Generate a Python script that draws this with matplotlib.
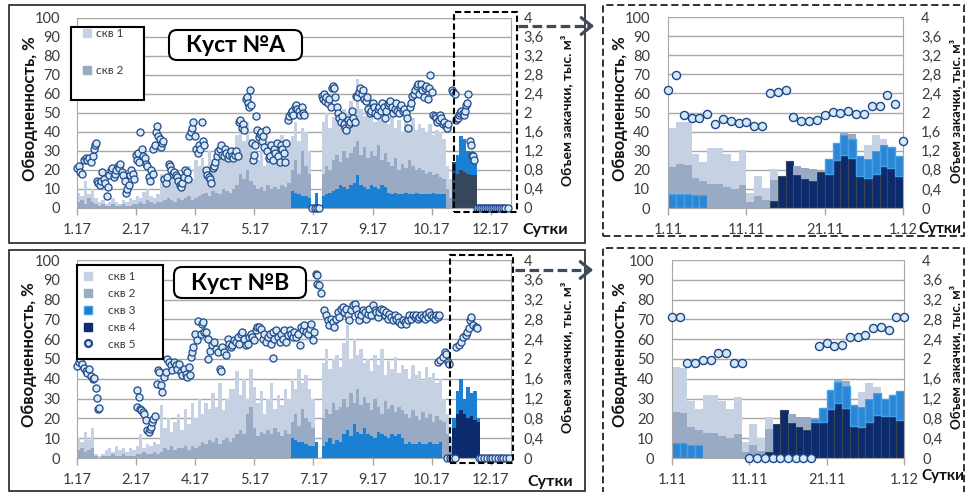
import numpy as np
import matplotlib
matplotlib.use("Agg")
import matplotlib.pyplot as plt
from matplotlib.patches import Rectangle, FancyBboxPatch, FancyArrowPatch
from matplotlib.lines import Line2D
from matplotlib.transforms import IdentityTransform

plt.rcParams['font.family'] = ['Lato', 'DejaVu Sans']

W, H = 966, 492

# ---------------- DATA ----------------
year_ticks = ['1.17', '2.17', '4.17', '5.17', '7.17', '9.17', '10.17', '12.17']
nov_ticks = ['1.11', '11.11', '21.11', '1.12']
vol_ticks = ['0', '0,4', '0,8', '1,2', '1,6', '2', '2,4', '2,8', '3,2', '3,6', '4']
wc_ticks = ['0', '10', '20', '30', '40', '50', '60', '70', '80', '90', '100']

# Куст A, whole year: injection volume per well (тыс. м3) per time step
a_skv1 = [0.20, 0.08, 0.48, 0.08, 0.28, 0.12,
          0.08, 0.08, 0.04, 0.08, 0.12, 0.08, 0.04, 0.08, 0.08, 0.16, 0.08,
          0.16, 0.08, 0.24, 0.24, 0.12, 0.12, 0.16,
          0.60, 0.32, 0.40, 0.64, 0.44, 0.32, 0.48, 0.56, 0.64, 0.44, 0.80,
          0.64, 0.76, 0.48, 0.96, 0.60, 0.80, 0.72, 0.92, 0.72, 0.72,
          0.88, 1.04, 0.96, 0.80, 1.00, 0.88, 0.72,
          0.60, 0.76, 0.52, 0.92, 0.72, 0.84, 0.64, 1.04, 0.76, 0.84,
          0.72, 0.80, 0.68, 0.48, 0.72, 0.48,
          0.04, 0, 0.04,
          1.08, 1.12, 0.88, 0.92, 1.08, 0.92, 0.88, 0.96, 1.08, 0.68,
          1.32,
          0.96, 0.64, 1.16, 0.80, 0.72, 0.80, 0.88, 0.84,
          0.80, 1.04, 0.64, 1.04, 0.68, 0.96, 0.72, 1.00, 0.84, 0.92,
          0.88, 0.88, 1.00, 0.84, 0.92, 0.96, 0.84,
          0.48, 0.40] + [0] * 17
a_skv2 = [0.12, 0.16, 0.08, 0.20, 0.12, 0.08,
          0.04, 0.08, 0.04, 0.04, 0.08, 0.04, 0.04, 0.08, 0.04, 0.04, 0.08,
          0.08, 0.12, 0.08, 0.16, 0.12, 0.08, 0.12,
          0.12, 0.16, 0.20, 0.16, 0.12, 0.20, 0.16, 0.20, 0.24, 0.16, 0.20,
          0.24, 0.28, 0.32, 0.24, 0.36, 0.32, 0.28, 0.40, 0.36, 0.32,
          0.40, 0.48, 0.72, 0.60, 0.80, 0.56, 0.48,
          0.40, 0.44, 0.36, 0.48, 0.40, 0.44, 0.40, 0.48, 0.44, 0.52,
          0.44, 0.68, 0.44, 0.96, 0.64, 0.52,
          0.04, 0, 0,
          0.48, 0.60, 0.48, 0.64, 0.72, 0.48, 0.76, 0.64, 0.68, 0.76,
          0.72,
          0.64, 0.84, 0.64, 0.72, 0.64, 0.92, 0.52, 0.72,
          0.64, 0.60, 0.72, 0.52, 0.64, 0.52, 0.72, 0.60, 0.48, 0.56,
          0.52, 0.44, 0.48, 0.36, 0.44, 0.36, 0.32,
          0.40, 0.20] + [0] * 17
a_skv3 = [0] * 62 + [0.36, 0.32, 0.28, 0.24, 0.24, 0.20,
                     0, 0.32, 0,
                     0.24, 0.28, 0.32, 0.36, 0.40, 0.48, 0.44, 0.40, 0.48, 0.52,
                     0.68,
                     0.48, 0.44, 0.40, 0.48, 0.44, 0.40, 0.48, 0.44,
                     0.32, 0.28, 0.32, 0.28, 0.28, 0.32, 0.28, 0.28, 0.32, 0.28,
                     0.28, 0.28, 0.28, 0.32, 0.28, 0.28, 0.28,
                     0, 0,
                     0, 0.40, 0.72, 0.68, 0.48, 0.48, 0.36] + [0] * 10
a_skv4 = [0] * 109 + [0.96, 0.72, 0.80, 0.76, 0.72, 0.68, 0.68] + [0] * 10

# Куст A, whole year: water cut of скв 5 (%)
a_skv5_t = [0, 0.5, 1, 1.5, 2, 2.5, 3, 3.5, 4, 4.5, 5, 5.3, 5.6,
            5.8, 6.2, 6.6, 7, 7.4, 7.8, 8.2, 8.6, 9, 9.4, 9.8, 10.2, 10.6, 11,
            11.4, 11.8, 12.2, 12.6, 13, 13.4, 13.8, 14.2, 14.6, 15, 15.4, 15.8, 16.2, 16.6,
            17, 17.3, 17.7, 18, 18.4, 18.8, 19.2, 19.6, 20, 20.4, 20.8, 21.2, 21.6, 22,
            22.2, 22.6, 23, 23.3, 23.6, 24, 24.4, 24.8, 25,
            25.4, 25.8, 26.2, 26.6, 27, 27.4, 27.8, 28.2, 28.6, 29, 29.4, 29.8, 30.2, 30.6, 31, 31.4, 31.8, 32.2,
            32.6, 33, 33.4, 33.8, 34.2, 34.6, 35, 35.4, 35.8, 36.2, 36.6, 37,
            37.4, 37.8, 38.2, 38.6, 39, 39.4,
            39.8, 40.2, 40.6, 41, 41.4, 41.8, 42.2, 42.6, 43, 43.4, 43.8, 44.2, 44.6, 45, 45.4, 45.8, 46.2, 46.6,
            47, 47.4, 47.8, 48.2, 48.6,
            49, 49.3, 49.6, 50, 50.3, 50.6,
            50.9, 51.2, 51.5, 51.8, 52.1, 52.4, 52.7, 53, 53.3,
            53.6, 54, 54.4, 54.8, 55.2, 55.6, 56, 56.4, 56.8, 57.2, 57.6, 58, 58.4, 58.8, 59.2, 59.6, 60, 60.4, 60.8,
            61.2, 61.6, 62, 62.4, 62.8, 63.2, 63.6, 64, 64.4, 64.8, 65.2, 65.6, 66,
            68.3, 69, 69.7, 70.4,
            71, 71.3, 71.6, 72, 72.4, 72.8, 73.2, 73.6, 74, 74.3, 74.6,
            75, 75.4, 75.8, 76.2, 76.6, 77, 77.4, 77.8, 78.2, 78.6, 79, 79.4, 79.8, 80.2, 80.6,
            81, 81.4, 81.8, 82.2, 82.6, 83, 83.4, 83.8, 84.2, 84.6, 85,
            85.4, 85.8, 86.2, 86.6, 87, 87.4, 87.8, 88.2, 88.6, 89, 89.4, 89.8, 90.2, 90.6, 91, 91.4, 91.8, 92.2, 92.6, 93, 93.4, 93.8,
            94.2, 94.6, 95, 95.4, 95.8, 96.2, 96.6, 97,
            97.4, 97.8, 98.2, 98.6, 99, 99.4, 99.8, 100.2, 100.6, 101, 101.4, 101.8, 102.2, 102.6, 103,
            103.4, 103.8, 104.2, 104.6, 105, 105.4, 105.8, 106.2, 106.6, 107, 107.4, 107.8,
            109, 109.3, 109.6, 110, 110.3, 110.6, 111, 111.3, 111.6, 112, 112.3, 112.6, 113, 113.3, 113.6, 114, 114.3, 114.6, 115, 115.3,
            116, 116.6, 117.2, 117.8, 118.4, 119, 119.6, 120.2, 120.8, 121.4, 122, 122.6, 123.2, 123.8, 124.4, 125]
a_skv5 = [21, 22, 19, 18, 25, 26, 25, 26, 24, 27, 31, 33, 34,
          14, 13, 12, 14, 19, 15, 13, 6, 11, 17, 20, 21, 16, 18,
          20, 22, 21, 23, 19, 17, 14, 8, 10, 12, 17, 20, 18, 15,
          28, 25, 29, 24, 40, 31, 27, 26, 23, 22, 16, 14, 20, 18,
          31, 33, 40, 43, 38, 36, 32, 34, 35,
          15, 13, 16, 23, 22, 20, 18, 19, 17, 16, 14, 12, 11, 13, 16, 20, 19, 15,
          38, 40, 42, 45, 38, 31, 29, 33, 31, 45, 35, 33,
          20, 17, 16, 15, 13, 21,
          22, 24, 27, 30, 31, 33, 28, 27, 31, 29, 26, 28, 30, 27, 26, 28, 30, 27,
          45, 46, 42, 44, 41,
          57, 58, 55, 53, 62, 54,
          34, 25, 28, 33, 48, 41, 37, 39, 40,
          35, 38, 32, 41, 30, 26, 27, 33, 25, 31, 29, 34, 27, 24, 33, 31, 29, 24, 34,
          46, 48, 50, 51, 49, 53, 54, 52, 51, 49, 53, 50, 49,
          0, 0, 0, 0,
          59, 57, 60, 56, 58, 55, 57, 53, 63, 64, 63,
          58, 53, 50, 47, 45, 48, 44, 42, 41, 46, 44, 45, 51, 47, 45,
          59, 58, 61, 63, 60, 62, 57, 56, 58, 52, 50,
          51, 55, 53, 50, 49, 52, 53, 51, 55, 53, 47, 51, 54, 55, 56, 53, 50, 52, 55, 51, 50, 53,
          54, 51, 52, 50, 47, 42, 53, 55,
          59, 60, 62, 64, 65, 60, 65, 62, 58, 63, 64, 57, 63, 70, 61,
          49, 48, 47, 45, 46, 49, 47, 44, 45, 43, 42, 44,
          62, 61, 60, 46, 47, 47, 49, 50, 51, 50, 49, 51, 54, 55, 60, 35, 33, 28, 27, 25,
          0, 0, 0, 0, 0, 0, 0, 0, 0, 0, 0, 0, 0, 0, 0, 0]

# Куст B, whole year
b_skv1 = [0.24, 0.12, 0.40, 0.20, 0.40,
          0.04, 0.04, 0.04,
          0.12, 0.16, 0.04, 0.20, 0.12, 0.12, 0.08, 0.16, 0.12,
          0.16, 0.40, 0.08, 0.20, 0.16, 0.20, 0.20,
          0.96, 0.40, 0.64, 0.28, 0.56, 0.68, 0.36, 0.76, 0.52, 0.88, 0.60,
          0.96, 0.56, 0.84, 0.64, 1.00, 0.64, 1.24, 0.60, 0.80, 1.08,
          1.00, 1.28, 0.72, 1.12, 0.32, 0.76, 0.84,
          0.68, 0.84, 0.40, 0.64, 1.04, 0.40, 0.76, 0.64, 0.84, 0.72,
          0.88, 0.52, 1.16, 0.52, 0.88, 0.68, 0.60,
          0, 0,
          1.12, 1.20, 0.92, 0.88, 1.12, 0.80,
          1.12, 1.64, 0.68, 1.28, 0.68, 1.12, 0.68,
          0.88, 0.80, 0.88, 0.84, 1.32, 0.52, 0.96, 0.72, 1.12, 0.68, 0.92,
          0.92, 0.80, 0.92, 0.84, 1.00, 0.64, 1.04, 0.76, 1.00, 0.68, 0.84,
          0.48, 0.40, 0.16] + [0] * 17
b_skv2 = [0.16, 0.20, 0.12, 0.16, 0.20,
          0.04, 0, 0.04,
          0.04, 0.04, 0.08, 0.04, 0.04, 0.08, 0.04, 0.04, 0.04,
          0.08, 0.08, 0.12, 0.08, 0.08, 0.12, 0.08,
          0.12, 0.20, 0.16, 0.24, 0.16, 0.20, 0.20, 0.24, 0.16, 0.24, 0.20,
          0.24, 0.32, 0.28, 0.36, 0.32, 0.40, 0.28, 0.36, 0.40, 0.32,
          0.40, 0.48, 0.56, 0.48, 0.88, 1.04, 0.60,
          0.44, 0.52, 0.48, 0.56, 0.48, 0.60, 0.52, 0.44, 0.56, 0.48,
          0.32, 0.52, 0.32, 0.68, 0.52, 0.48, 0.36,
          0, 0,
          0.56, 0.68, 0.48, 0.84, 0.60, 0.72,
          0.72, 0.48, 0.88, 0.44, 0.88, 0.60, 0.64,
          0.64, 0.52, 0.80, 0.52, 0.40, 0.72, 0.60, 0.60, 0.48, 0.56, 0.56,
          0.60, 0.48, 0.68, 0.56, 0.44, 0.64, 0.52, 0.56, 0.44, 0.56, 0.44,
          0.72, 0.48, 0.24] + [0] * 17
b_skv3 = [0] * 62 + [0.40, 0.36, 0.32, 0.32, 0.28, 0.24, 0.24,
                     0.32, 0,
                     0.24, 0.32, 0.40, 0.28, 0.36, 0.32,
                     0.48, 0.56, 0.44, 0.68, 0.52, 0.48, 0.60,
                     0.48, 0.44, 0.40, 0.52, 0.48, 0.44, 0.40, 0.48, 0.44, 0.48, 0.40,
                     0.28, 0.32, 0.28, 0.28, 0.32, 0.28, 0.28, 0.32, 0.28, 0.28, 0.32,
                     0, 0, 0,
                     0.20, 0.48, 0.64, 0.32, 0.64, 0.48, 0.60, 0.08] + [0] * 9
b_skv4 = [0] * 109 + [0.60, 0.88, 0.96, 0.88, 0.80, 0.84, 0.76, 0.72] + [0] * 9

b_skv5_t = [0.1, 0.6, 1, 1.5, 2, 2.5, 3, 3.5, 4, 4.5, 4.9, 5.4, 5.9, 6.2, 6.4,
            17.3, 17.5, 18, 18.3, 18.7, 19.1, 19.5, 20, 20.4, 20.9, 21.2, 21.6, 21.9, 22.2, 22.6,
            23.1, 23.5, 23.8, 24.3, 24.8, 25.3, 25.8, 26.2,
            26.7, 27.2, 27.7, 28.2, 28.7, 29.1, 29.6, 30.1, 30.6, 31.1, 31.5, 32, 32.5, 32.8,
            33.2, 33.5, 33.8, 34.2, 34.8, 35, 35.9, 36.4, 36.7, 36.9, 37.4, 37.9,
            38, 38.6, 39.3, 39.8, 40.3, 40.8, 41.5, 41.7, 42.2, 42.7, 43.2, 43.7, 44.1, 44.6,
            45.1, 45.6, 46.1, 46.6, 47.1, 47.6, 48, 48.5, 49, 49.5, 50, 50.4, 50.9, 51.4, 51.9, 52.4,
            52.9, 53.4, 53.9, 54.4, 54.9, 55.4, 55.9, 56.3, 56.8, 57, 57.3, 57.8, 58.3, 58.8, 59.2,
            59.7, 60.2, 60.7, 61.2, 61.7, 62.2, 62.6, 63.1, 63.6, 64.1, 64.6, 65, 65.5, 66, 66.5,
            67, 67.5, 68, 68.4, 68.9,
            69.4, 69.6, 69.8, 70.2, 70.9,
            71.8, 72.3, 72.8, 73.3, 73.8, 74.3, 74.7, 75.2, 75.7, 76.2,
            76.7, 77.2, 77.6, 78.1, 78.6, 79.1, 79.6, 80.1, 80.6, 81.1,
            81.5, 82, 82.5, 83, 83.5, 84, 84.5, 84.9, 85.4, 85.9,
            86.4, 86.9, 87.3, 87.8, 88.3, 88.8, 89.3, 89.8, 90.2, 90.7,
            91.2, 91.7, 92.2, 92.7, 93.1, 93.6, 94.1, 94.6, 95.1, 95.6,
            96.1, 96.5, 97, 97.5, 98, 98.5, 99, 99.4, 99.9, 100.4,
            100.9, 101.4, 101.9, 102.3, 102.8, 103.3, 103.8, 104.3, 104.8, 105.2,
            104.9, 105.4, 106.2, 106.7, 107.2, 107.7, 108.1,
            107.4, 108.2, 109, 109.8,
            110.1, 110.8, 111.5, 112, 112.8, 113.2, 113.9, 114.1, 114.4, 114.9, 115.7, 116.1,
            116.6, 117.4, 118.2, 119, 119.8, 120.6, 121.4, 122.2, 123, 123.8, 124.6, 125.4]
b_skv5 = [46.5, 48.5, 50, 47.5, 45.5, 44, 43, 45, 41.5, 40, 40.5, 35.4, 30.3, 24.5, 25.3,
          34.2, 25.8, 30.8, 25, 24, 23, 22.4, 19, 14, 13.1, 14.8, 15.7, 18.2, 19.9, 21.2,
          37.5, 44.3, 43.4, 36.7, 33.3, 40.9, 43.4, 50.2,
          48.5, 46.8, 44.3, 48.5, 46.8, 45, 47.6, 43.4, 41.7, 45, 42.6, 40.9, 46, 41.7,
          51, 53.5, 56, 62.8, 59.4, 69, 62.8, 67.8, 68.7, 63.6, 63.6, 60.3,
          50.2, 53.9, 56.9, 58.6, 55.2, 53.5, 45.1, 43.8, 56, 53.5, 51.9, 60.3, 57.7, 56,
          56.9, 59.4, 58.6, 61.1, 57.7, 62.8, 63.6, 60.3, 56.9, 57.7, 61.1, 62.8, 61.1, 59.4, 64.5, 66.2,
          66, 65.3, 60.3, 62.8, 58.6, 61, 62.8, 57.7, 63.6, 50.5, 60.3, 64.5, 61.1, 58.6, 62.8,
          60.3, 64.5, 58.6, 62, 64.5, 62.8, 61.1, 63.6, 61.1, 62.8, 56.9, 66.2, 64.5, 67, 63.6,
          62.8, 65.3, 67.8, 59.4, 63.6,
          92.8, 92.6, 88, 87.2, 83.3,
          74.6, 72, 69.5, 67, 70.4, 68.7, 66.2, 70.4, 73.7, 71.2,
          75.4, 76.3, 73.7, 75.4, 72, 69.5, 74.6, 77.1, 77.9, 75.4,
          72.9, 69.5, 72, 74.6, 73.7, 70.4, 72.9, 75.4, 72, 77.1,
          74.6, 73.7, 71.2, 73.7, 75.4, 74.6, 72, 73.7, 70.4, 72.9,
          71.2, 69.5, 72, 70.4, 71.2, 68.7, 67.8, 69.5, 68.7, 67.8,
          69.5, 72, 70.4, 72, 71.2, 72, 70.4, 71.2, 72, 71.2,
          70.4, 72.9, 71.2, 73.7, 72, 71.2, 70.4, 72, 71.2, 72,
          48.5, 49.3, 51, 53.5, 52.7, 48.5, 47.6,
          0, 0, 0, 0,
          56, 57, 58.7, 61.3, 62, 63.8, 65.5, 69.7, 71.4, 67, 66.3, 65.5,
          0, 0, 0, 0, 0, 0, 0, 0, 0, 0, 0, 0]

# November zoom, Куст A: daily injection (тыс. м3) and water cut (%)
n_a_skv1 = [0.82, 0.89, 0.91, 0.51, 0.40, 0.75, 0.75, 0.69, 0.60, 0.74, 0.18, 0.42, 0.26, 0.24, 0,
            0, 0, 0, 0, 0, 0, 0, 0, 0, 0, 0.30, 0.32, 0.12, 0, 0]
n_a_skv2 = [0.56, 0.62, 0.60, 0.35, 0.30, 0.50, 0.50, 0.45, 0.39, 0.48, 0.13, 0.26, 0.16, 0.44, 0,
            0, 0.19, 0.23, 0.26, 0.02, 0, 0, 0.07, 0.11, 0, 0, 0, 0, 0, 0]
n_a_skv3 = [0.30, 0.30, 0.30, 0.27, 0.27, 0, 0, 0, 0, 0, 0, 0, 0, 0, 0,
            0, 0, 0, 0, 0, 0.30, 0.36, 0.40, 0.41, 0.42, 0.40, 0.48, 0.45, 0.44, 0.40]
n_a_skv4 = [0, 0, 0, 0, 0, 0, 0, 0, 0, 0, 0, 0, 0, 0.14, 0.67,
            0.98, 0.70, 0.61, 0.56, 0.75, 0.72, 1.00, 1.12, 1.04, 0.67, 0.62, 0.72, 0.87, 0.84, 0.68]
n_a_skv5 = [62, 69.5, 48.7, 47.3, 47.3, 49.3, 43.8, 46.7, 45.7, 44.7, 44.9, 42.8, 42.8, 60, 60.7,
            61.6, 47.5, 45.7, 45.7, 46.3, 48.8, 50.2, 49.6, 50.7, 49.3, 49.3, 53.6, 53.6, 59.3, 54.6, 35]

# November zoom, Куст B
n_b_skv1 = [0.91, 0.92, 0.54, 0.43, 0.77, 0.77, 0.71, 0.60, 0.75, 0.20, 0.42, 0.25, 0.24, 0, 0,
            0, 0, 0, 0, 0, 0, 0, 0, 0, 0.29, 0.33, 0.12, 0, 0, 0]
n_b_skv2 = [0.62, 0.60, 0.35, 0.29, 0.50, 0.50, 0.45, 0.40, 0.48, 0.12, 0.27, 0.15, 0.46, 0, 0,
            0.17, 0.19, 0.26, 0, 0, 0, 0.07, 0.10, 0, 0, 0, 0, 0, 0, 0]
n_b_skv3 = [0.30, 0.30, 0.27, 0.27, 0, 0, 0, 0, 0, 0, 0, 0, 0, 0, 0,
            0, 0, 0, 0.05, 0.30, 0.37, 0.42, 0.44, 0.43, 0.41, 0.46, 0.44, 0.34, 0.44, 0.60]
n_b_skv4 = [0, 0, 0, 0, 0, 0, 0, 0, 0, 0, 0, 0, 0.12, 0.68, 0.96,
            0.71, 0.63, 0.56, 0.73, 0.72, 1.00, 1.11, 1.02, 0.65, 0.63, 0.73, 0.87, 0.85, 0.84, 0.76]
n_b_skv5 = [71.4, 71.4, 48.2, 48.2, 49.4, 49.4, 53, 53, 48.2, 48.2, 0, 0, 0, 0, 0,
            0, 0, 0, 0, 56.6, 58, 56.6, 57, 61, 61, 62, 65.5, 66, 64.5, 71, 71.3]

# ---------------- STYLE ----------------
C1 = '#c6d2e3'
C2 = '#98aac4'
C3 = '#1a80d4'
C4 = '#0c2b6e'
C4_A = '#35465d'
GRID = '#a8a8a8'
TXT = '#3c3c3c'
MF = '#d3e9f9'
ME = '#1f4685'

fig = plt.figure(figsize=(W / 100, H / 100), dpi=100)


def fx(x):
    return x / W


def fy(y):
    return 1 - y / H


def draw_panel(box, wells, colors, edges, sx, sy, xmax, tpos, tlbl,
               msize, mlw, lpad, rpad, llab_x, rlab_x, rlab_fs):
    l, t, r, b = box
    ax = fig.add_axes([fx(l), fy(b), (r - l) / W, (b - t) / H])
    axv = ax.twinx()
    ax.set_zorder(axv.get_zorder() + 1)
    ax.patch.set_visible(False)

    n = len(wells[0])
    x = np.arange(n)
    bottom = np.zeros(n)
    for vals, col, (ec, elw) in zip(wells, colors, edges):
        v = np.asarray(vals, dtype=float)
        m = v > 0
        axv.bar(x[m], v[m], width=1.0, bottom=bottom[m], align='edge',
                color=col, edgecolor=ec, linewidth=elw, zorder=2)
        bottom = bottom + v
    axv.set_ylim(0, 4)
    axv.set_yticks(np.arange(11) * 0.4)
    axv.set_yticklabels(vol_ticks)
    axv.yaxis.grid(True, color=GRID, linewidth=1.0)
    axv.set_axisbelow(True)
    for s in ('top', 'left', 'bottom'):
        axv.spines[s].set_visible(False)
    axv.spines['right'].set_color(GRID)
    axv.tick_params(axis='y', length=0, pad=rpad, labelsize=10.5, labelcolor=TXT)
    axv.set_ylabel('Объем закачки, тыс. м³', fontsize=rlab_fs, fontweight='bold',
                   color='#111111')
    axv.yaxis.label.set_va('center')
    axv.yaxis.set_label_coords(rlab_x, 0.51)

    ax.scatter(sx, sy, s=msize, facecolor=MF, edgecolor=ME, linewidth=mlw,
               zorder=3, clip_on=False)
    ax.set_xlim(0, xmax)
    ax.set_ylim(0, 100)
    ax.set_yticks(np.arange(11) * 10)
    ax.set_yticklabels(wc_ticks)
    ax.set_xticks(tpos)
    ax.set_xticklabels(tlbl)
    for s in ('top', 'right'):
        ax.spines[s].set_visible(False)
    ax.spines['left'].set_color(GRID)
    ax.spines['bottom'].set_color(GRID)
    ax.tick_params(axis='y', length=0, pad=lpad, labelsize=10.5, labelcolor=TXT)
    ax.tick_params(axis='x', length=5, width=1, color=GRID, pad=6, labelsize=10.5,
                   labelcolor=TXT)
    ax.set_ylabel('Обводненность, %', fontsize=12, fontweight='bold', color='#111111')
    ax.yaxis.label.set_va('center')
    ax.yaxis.set_label_coords(llab_x, 0.52)
    return ax


year_pos = [0, 17.2, 34.3, 51.5, 68.6, 85.8, 103, 120.1]
nov_pos = [0, 10, 20, 30]
no_edge = [(None, 0), (None, 0), (None, 0), (None, 0)]
nov_edges = [('#3c4652', 0.8), ('#45a0ea', 1.0), (C2, 0), (C1, 0)]

# top-left: Куст A, year
draw_panel((77, 17.7, 511, 207.7), [a_skv4, a_skv3, a_skv2, a_skv1],
           [C4_A, C3, C2, C1], no_edge, a_skv5_t, a_skv5, 126, year_pos, year_ticks,
           26, 0.9, 12, 9, -0.108, 1.127, 10)
# bottom-left: Куст B, year
draw_panel((77, 260, 511, 458), [b_skv4, b_skv3, b_skv2, b_skv1],
           [C4, C3, C2, C1], no_edge, b_skv5_t, b_skv5, 126, year_pos, year_ticks,
           26, 0.9, 12, 9, -0.11, 1.129, 10)
# top-right: Куст A, November
nov_days = np.arange(len(n_a_skv5))
draw_panel((668, 17, 903, 208), [n_a_skv4, n_a_skv3, n_a_skv2, n_a_skv1],
           [C4, '#2d86d4', C2, C1], nov_edges, nov_days, n_a_skv5, 30, nov_pos, nov_ticks,
           34, 1.0, 13, 13, 1.0 * (620 - 668) / 235, (956 - 668) / 235, 9.5)
# bottom-right: Куст B, November
draw_panel((672, 260, 904, 458), [n_b_skv4, n_b_skv3, n_b_skv2, n_b_skv1],
           [C4, '#2d86d4', C2, C1], nov_edges, nov_days, n_b_skv5, 30, nov_pos, nov_ticks,
           34, 1.0, 13, 13, (620 - 672) / 232, (956 - 672) / 232, 9.5)

# ---------------- decorations ----------------
def frame(x0, y0, x1, y1, **kw):
    fig.add_artist(Rectangle((fx(x0), fy(y1)), (x1 - x0) / W, (y1 - y0) / H,
                             transform=fig.transFigure, **kw))


frame(9, 5, 585, 243, fill=False, ec='#222222', lw=1.2, zorder=0.5)
frame(9, 250, 585, 491, fill=False, ec='#222222', lw=1.2, zorder=0.5)
frame(603, 5, 964, 236, fill=False, ec='#222222', lw=1.3, ls=(0, (4, 2)), zorder=0.5)
frame(603, 248, 964, 495, fill=False, ec='#222222', lw=1.3, ls=(0, (4, 2)), zorder=0.5)
frame(453.5, 11.7, 516.6, 211.7, fill=False, ec='black', lw=1.5, ls=(0, (3, 1.5)), zorder=8)
frame(450, 255, 513.3, 463, fill=False, ec='black', lw=1.5, ls=(0, (3, 1.5)), zorder=8)

for ya, x0, x1 in ((26, 518, 597), (270, 515, 596)):
    fig.add_artist(Line2D([fx(x0), fx(x1 - 9)], [fy(ya), fy(ya)], transform=fig.transFigure,
                          color='#3d4b5e', lw=2.3, ls=(0, (3, 1.4)), zorder=8))
    fig.add_artist(FancyArrowPatch(
        (fx(x1 - 11), fy(ya)), (fx(x1), fy(ya)), transform=fig.transFigure,
        arrowstyle='->,head_length=5,head_width=4', color='#3d4b5e', lw=2.3,
        mutation_scale=1.5, zorder=8))

# title boxes
for (bx0, by0, bx1, by1, txt) in ((169, 30, 302, 60, 'Куст №A'), (174, 267, 306, 298, 'Куст №B')):
    fig.add_artist(FancyBboxPatch((bx0, H - by1), bx1 - bx0, by1 - by0,
                                  boxstyle='round,pad=0,rounding_size=8',
                                  transform=IdentityTransform(), fc='white', ec='black',
                                  lw=1.5, zorder=9))
    fig.text(fx((bx0 + bx1) / 2), fy((by0 + by1) / 2 + 1), txt, ha='center', va='center',
             fontsize=16.5, fontweight='bold', color='black', zorder=10)

# "Сутки"
for (sx_, sy_, fs_) in ((522, 230, 11.5), (527, 482, 11.5), (918, 229, 11), (921, 476, 11)):
    fig.text(fx(sx_), fy(sy_), 'Сутки', ha='left', va='center', fontsize=fs_,
             fontweight='bold', color='#111111', zorder=10)

# legends
frame(71.3, 26.7, 144, 100, fc='white', ec='black', lw=1.5, zorder=9)
frame(76.7, 264.7, 163.3, 358.7, fc='white', ec='black', lw=1.5, zorder=9)

h_a = [Line2D([], [], marker='s', ls='none', mfc=C1, mec=C1, ms=6),
       Line2D([], [], marker='s', ls='none', mfc=C2, mec=C2, ms=6)]
leg = fig.legend(h_a, ['скв 1', 'скв 2'], loc='upper left', bbox_to_anchor=(fx(82), fy(28)),
                 bbox_transform=fig.transFigure, frameon=False, fontsize=8.5, handlelength=0.8,
                 handletextpad=0.35, labelspacing=2.2, borderpad=0, borderaxespad=0,
                 labelcolor=TXT)
leg.set_zorder(11)

h_b = [Line2D([], [], marker='s', ls='none', mfc=C1, mec=C1, ms=6),
       Line2D([], [], marker='s', ls='none', mfc=C2, mec=C2, ms=6),
       Line2D([], [], marker='s', ls='none', mfc=C3, mec='#45a0ea', ms=6),
       Line2D([], [], marker='s', ls='none', mfc=C4, mec=C4, ms=6),
       Line2D([], [], marker='o', ls='none', mfc=MF, mec=ME, ms=5, mew=1.6)]
leg2 = fig.legend(h_b, ['скв 1', 'скв 2', 'скв 3', 'скв 4', 'скв 5'], loc='upper left',
                  bbox_to_anchor=(fx(83), fy(271)), bbox_transform=fig.transFigure,
                  frameon=False, fontsize=8.5, handlelength=0.8, handletextpad=1.3,
                  labelspacing=0.5, borderpad=0, borderaxespad=0, labelcolor=TXT)
leg2.set_zorder(11)

fig.savefig('out.png', dpi=100, facecolor='white')
